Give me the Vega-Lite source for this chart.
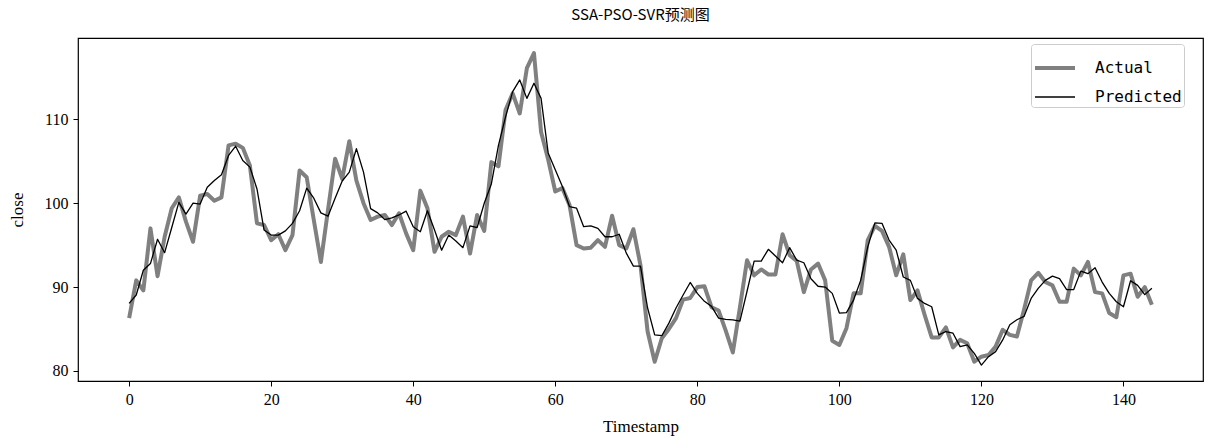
{
  "$schema": "https://vega.github.io/schema/vega-lite/v6.json",
  "width": 1125,
  "height": 343,
  "autosize": {"type": "none"},
  "padding": {"left": 78, "top": 38, "right": 2, "bottom": 57},
  "background": "white",
  "title": {
    "text": "SSA-PSO-SVR预测图",
    "font": "Noto Sans CJK SC",
    "fontSize": 15,
    "fontWeight": "normal",
    "color": "black",
    "anchor": "middle",
    "offset": 15
  },
  "data": {
    "values": [
      {"t": 0, "Actual": 86.3, "Predicted": 88.06},
      {"t": 1, "Actual": 90.8, "Predicted": 89.05},
      {"t": 2, "Actual": 89.6, "Predicted": 92.0},
      {"t": 3, "Actual": 97.0, "Predicted": 92.8},
      {"t": 4, "Actual": 91.3, "Predicted": 95.7},
      {"t": 5, "Actual": 96.0, "Predicted": 94.1},
      {"t": 6, "Actual": 99.4, "Predicted": 97.1},
      {"t": 7, "Actual": 100.7, "Predicted": 100.1},
      {"t": 8, "Actual": 97.8, "Predicted": 98.7},
      {"t": 9, "Actual": 95.4, "Predicted": 100.0},
      {"t": 10, "Actual": 100.9, "Predicted": 99.9},
      {"t": 11, "Actual": 101.1, "Predicted": 101.9},
      {"t": 12, "Actual": 100.3, "Predicted": 102.7},
      {"t": 13, "Actual": 100.7, "Predicted": 103.4},
      {"t": 14, "Actual": 106.9, "Predicted": 105.7},
      {"t": 15, "Actual": 107.1, "Predicted": 106.8},
      {"t": 16, "Actual": 106.6, "Predicted": 105.1},
      {"t": 17, "Actual": 104.5, "Predicted": 104.3},
      {"t": 18, "Actual": 97.6, "Predicted": 101.7},
      {"t": 19, "Actual": 97.4, "Predicted": 96.8},
      {"t": 20, "Actual": 95.6, "Predicted": 96.2},
      {"t": 21, "Actual": 96.3, "Predicted": 96.2},
      {"t": 22, "Actual": 94.4, "Predicted": 96.7},
      {"t": 23, "Actual": 96.2, "Predicted": 97.6},
      {"t": 24, "Actual": 103.9, "Predicted": 99.1},
      {"t": 25, "Actual": 103.1, "Predicted": 101.8},
      {"t": 26, "Actual": 98.0, "Predicted": 100.6},
      {"t": 27, "Actual": 93.0, "Predicted": 98.85},
      {"t": 28, "Actual": 99.2, "Predicted": 98.45},
      {"t": 29, "Actual": 105.3, "Predicted": 100.6},
      {"t": 30, "Actual": 102.9, "Predicted": 102.65},
      {"t": 31, "Actual": 107.4, "Predicted": 103.7},
      {"t": 32, "Actual": 102.7, "Predicted": 106.5},
      {"t": 33, "Actual": 100.0, "Predicted": 103.7},
      {"t": 34, "Actual": 98.0, "Predicted": 99.35},
      {"t": 35, "Actual": 98.4, "Predicted": 98.85},
      {"t": 36, "Actual": 98.6, "Predicted": 98.05},
      {"t": 37, "Actual": 97.4, "Predicted": 98.25},
      {"t": 38, "Actual": 98.8, "Predicted": 98.6},
      {"t": 39, "Actual": 96.4, "Predicted": 99.05},
      {"t": 40, "Actual": 94.4, "Predicted": 97.2},
      {"t": 41, "Actual": 101.5, "Predicted": 96.6},
      {"t": 42, "Actual": 99.4, "Predicted": 99.1},
      {"t": 43, "Actual": 94.2, "Predicted": 96.8},
      {"t": 44, "Actual": 96.0, "Predicted": 94.4},
      {"t": 45, "Actual": 96.6, "Predicted": 96.2},
      {"t": 46, "Actual": 96.2, "Predicted": 95.5},
      {"t": 47, "Actual": 98.4, "Predicted": 94.7},
      {"t": 48, "Actual": 94.0, "Predicted": 97.3},
      {"t": 49, "Actual": 98.6, "Predicted": 97.1},
      {"t": 50, "Actual": 96.7, "Predicted": 100.0},
      {"t": 51, "Actual": 104.9, "Predicted": 102.3},
      {"t": 52, "Actual": 104.4, "Predicted": 106.9},
      {"t": 53, "Actual": 111.1, "Predicted": 110.3},
      {"t": 54, "Actual": 113.1, "Predicted": 113.3},
      {"t": 55, "Actual": 110.7, "Predicted": 114.7},
      {"t": 56, "Actual": 116.1, "Predicted": 112.5},
      {"t": 57, "Actual": 117.9, "Predicted": 114.3},
      {"t": 58, "Actual": 108.5, "Predicted": 112.5},
      {"t": 59, "Actual": 105.2, "Predicted": 106.0},
      {"t": 60, "Actual": 101.4, "Predicted": 104.0},
      {"t": 61, "Actual": 101.8, "Predicted": 102.0},
      {"t": 62, "Actual": 99.8, "Predicted": 99.6},
      {"t": 63, "Actual": 95.0, "Predicted": 99.4},
      {"t": 64, "Actual": 94.6, "Predicted": 97.2},
      {"t": 65, "Actual": 94.7, "Predicted": 97.3},
      {"t": 66, "Actual": 95.6, "Predicted": 97.0},
      {"t": 67, "Actual": 94.8, "Predicted": 96.0},
      {"t": 68, "Actual": 98.5, "Predicted": 96.0},
      {"t": 69, "Actual": 95.0, "Predicted": 96.3},
      {"t": 70, "Actual": 94.6, "Predicted": 94.05},
      {"t": 71, "Actual": 96.9, "Predicted": 92.5},
      {"t": 72, "Actual": 92.6, "Predicted": 92.5},
      {"t": 73, "Actual": 84.7, "Predicted": 87.5},
      {"t": 74, "Actual": 81.1, "Predicted": 84.3},
      {"t": 75, "Actual": 83.9, "Predicted": 84.2},
      {"t": 76, "Actual": 85.0, "Predicted": 85.7},
      {"t": 77, "Actual": 86.3, "Predicted": 87.5},
      {"t": 78, "Actual": 88.5, "Predicted": 89.05},
      {"t": 79, "Actual": 88.7, "Predicted": 90.55},
      {"t": 80, "Actual": 90.0, "Predicted": 89.25},
      {"t": 81, "Actual": 90.1, "Predicted": 88.3},
      {"t": 82, "Actual": 87.6, "Predicted": 87.7},
      {"t": 83, "Actual": 87.2, "Predicted": 86.3},
      {"t": 84, "Actual": 84.8, "Predicted": 86.15},
      {"t": 85, "Actual": 82.2, "Predicted": 86.1},
      {"t": 86, "Actual": 87.6, "Predicted": 85.95},
      {"t": 87, "Actual": 93.2, "Predicted": 89.5},
      {"t": 88, "Actual": 91.4, "Predicted": 93.1},
      {"t": 89, "Actual": 92.1, "Predicted": 93.1},
      {"t": 90, "Actual": 91.5, "Predicted": 94.5},
      {"t": 91, "Actual": 91.5, "Predicted": 93.7},
      {"t": 92, "Actual": 96.3, "Predicted": 92.9},
      {"t": 93, "Actual": 93.8, "Predicted": 94.7},
      {"t": 94, "Actual": 93.1, "Predicted": 93.2},
      {"t": 95, "Actual": 89.4, "Predicted": 92.9},
      {"t": 96, "Actual": 92.1, "Predicted": 91.0},
      {"t": 97, "Actual": 92.8, "Predicted": 90.1},
      {"t": 98, "Actual": 90.8, "Predicted": 90.0},
      {"t": 99, "Actual": 83.6, "Predicted": 89.25},
      {"t": 100, "Actual": 83.1, "Predicted": 86.9},
      {"t": 101, "Actual": 85.1, "Predicted": 86.95},
      {"t": 102, "Actual": 89.25, "Predicted": 88.45},
      {"t": 103, "Actual": 89.25, "Predicted": 90.8},
      {"t": 104, "Actual": 95.6, "Predicted": 94.8},
      {"t": 105, "Actual": 97.3, "Predicted": 97.65},
      {"t": 106, "Actual": 96.7, "Predicted": 97.6},
      {"t": 107, "Actual": 94.8, "Predicted": 95.6},
      {"t": 108, "Actual": 91.4, "Predicted": 94.4},
      {"t": 109, "Actual": 93.9, "Predicted": 91.2},
      {"t": 110, "Actual": 88.45, "Predicted": 90.8},
      {"t": 111, "Actual": 89.6, "Predicted": 88.65},
      {"t": 112, "Actual": 86.7, "Predicted": 88.05},
      {"t": 113, "Actual": 84.0, "Predicted": 87.65},
      {"t": 114, "Actual": 84.0, "Predicted": 84.3},
      {"t": 115, "Actual": 85.2, "Predicted": 84.7},
      {"t": 116, "Actual": 82.8, "Predicted": 84.5},
      {"t": 117, "Actual": 83.7, "Predicted": 82.9},
      {"t": 118, "Actual": 83.3, "Predicted": 83.1},
      {"t": 119, "Actual": 81.1, "Predicted": 82.1},
      {"t": 120, "Actual": 81.7, "Predicted": 80.7},
      {"t": 121, "Actual": 81.9, "Predicted": 81.7},
      {"t": 122, "Actual": 82.9, "Predicted": 82.3},
      {"t": 123, "Actual": 84.9, "Predicted": 83.7},
      {"t": 124, "Actual": 84.3, "Predicted": 85.5},
      {"t": 125, "Actual": 84.1, "Predicted": 86.1},
      {"t": 126, "Actual": 87.3, "Predicted": 86.5},
      {"t": 127, "Actual": 90.8, "Predicted": 88.65},
      {"t": 128, "Actual": 91.7, "Predicted": 89.85},
      {"t": 129, "Actual": 90.6, "Predicted": 90.8},
      {"t": 130, "Actual": 90.2, "Predicted": 91.3},
      {"t": 131, "Actual": 88.25, "Predicted": 91.0},
      {"t": 132, "Actual": 88.25, "Predicted": 89.7},
      {"t": 133, "Actual": 92.2, "Predicted": 89.7},
      {"t": 134, "Actual": 91.4, "Predicted": 91.9},
      {"t": 135, "Actual": 93.0, "Predicted": 91.6},
      {"t": 136, "Actual": 89.4, "Predicted": 92.3},
      {"t": 137, "Actual": 89.25, "Predicted": 90.6},
      {"t": 138, "Actual": 86.9, "Predicted": 89.25},
      {"t": 139, "Actual": 86.4, "Predicted": 88.25},
      {"t": 140, "Actual": 91.4, "Predicted": 87.65},
      {"t": 141, "Actual": 91.6, "Predicted": 90.75},
      {"t": 142, "Actual": 88.85, "Predicted": 90.2},
      {"t": 143, "Actual": 90.0, "Predicted": 89.1},
      {"t": 144, "Actual": 87.9, "Predicted": 89.85}
    ]
  },
  "transform": [
    {"fold": ["Actual", "Predicted"], "as": ["series", "close"]}
  ],
  "mark": {"type": "line", "strokeJoin": "round", "strokeCap": "butt"},
  "encoding": {
    "x": {
      "field": "t",
      "type": "quantitative",
      "title": "Timestamp",
      "scale": {"domain": [-7.2, 151.2], "nice": false, "zero": false},
      "axis": {"values": [0, 20, 40, 60, 80, 100, 120, 140]}
    },
    "y": {
      "field": "close",
      "type": "quantitative",
      "title": "close",
      "scale": {"domain": [78.8, 119.7], "nice": false, "zero": false},
      "axis": {"values": [80, 90, 100, 110]}
    },
    "color": {
      "field": "series",
      "type": "nominal",
      "scale": {"domain": ["Actual", "Predicted"], "range": ["#808080", "#000000"]},
      "legend": {
        "title": null,
        "orient": "none",
        "legendX": 953,
        "legendY": 6,
        "symbolType": "stroke",
        "symbolSize": 1600,
        "labelFont": "DejaVu Sans Mono",
        "labelFontSize": 16,
        "labelColor": "black",
        "labelOffset": 18,
        "rowPadding": -4,
        "padding": 2,
        "strokeColor": "#cccccc",
        "fillColor": "white",
        "cornerRadius": 3
      }
    },
    "strokeWidth": {
      "field": "series",
      "type": "nominal",
      "scale": {"domain": ["Actual", "Predicted"], "range": [4, 1.3]},
      "legend": null
    }
  },
  "config": {
    "view": {"stroke": "black", "strokeWidth": 1.2},
    "axis": {
      "grid": false,
      "domain": false,
      "ticks": true,
      "tickColor": "black",
      "tickSize": 5,
      "tickWidth": 1,
      "labelFont": "Liberation Serif",
      "labelFontSize": 16,
      "labelColor": "black",
      "labelPadding": 5,
      "titleFont": "Liberation Serif",
      "titleFontSize": 17,
      "titleFontWeight": "normal",
      "titleColor": "black"
    },
    "axisX": {"titlePadding": 11},
    "axisY": {"titlePadding": 18}
  }
}
